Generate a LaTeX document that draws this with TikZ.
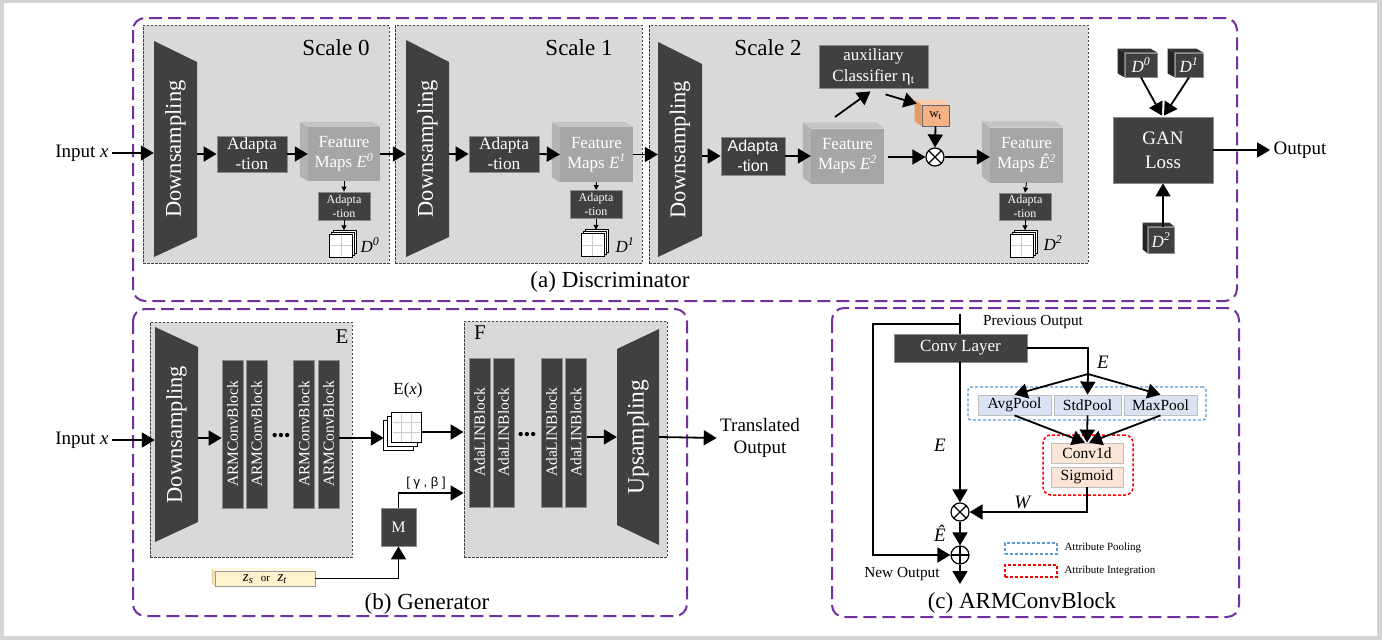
\documentclass[tikz,border=0pt]{standalone}
\usepackage{fontspec}
\usepackage{graphicx}
\setmainfont{Liberation Serif}
\newfontfamily\sansf{Liberation Sans}
\usetikzlibrary{arrows.meta,calc}
\definecolor{dk}{HTML}{404040}
\definecolor{pgray}{HTML}{D9D9D9}
\definecolor{purp}{HTML}{7030A0}
\definecolor{fmgray}{HTML}{A6A6A6}
\definecolor{fmside}{HTML}{B3B3B3}
\definecolor{fmtop}{HTML}{C4C4C4}
\definecolor{orng}{HTML}{F4B183}
\definecolor{orngside}{HTML}{E29A66}
\definecolor{orngtop}{HTML}{F8CBAD}
\definecolor{ylw}{HTML}{FFF2CC}
\definecolor{ylwside}{HTML}{EDDCA8}
\definecolor{lblue}{HTML}{DAE3F3}
\definecolor{lorg}{HTML}{FBE5D6}
\definecolor{bdash}{HTML}{5B9BD5}
\definecolor{dkside}{HTML}{262626}
\definecolor{dktop}{HTML}{333333}
\newcommand\fsz[2]{\fontsize{#1}{#2}\selectfont}
\newcommand\cubesides[5]{%
  \fill[#4] (#1.north west) -- ++(-#2,-#3) -- ($(#1.south west)+(-#2,-#3)$) -- (#1.south west) -- cycle;
  \fill[#5] (#1.north west) -- ++(-#2,-#3) -- ($(#1.north east)+(-#2,-#3)$) -- (#1.north east) -- cycle;}
\newcommand\mkdstack[2]{%
  \node[minimum width=27pt,minimum height=27pt,inner sep=0pt] (#1) at (#2) {};
  \coordinate (#1-f) at ($(#1.north west)+(0,4)$);
  \draw[stk] ($(#1-f)+(4,-4)$) rectangle ++(23,23);
  \draw[stk] ($(#1-f)+(2,-2)$) rectangle ++(23,23);
  \draw[stk] (#1-f) rectangle ++(23,23);
  \draw[gridl] ($(#1-f)+(11.5,1)$) -- ++(0,21) ($(#1-f)+(1,11.5)$) -- ++(21,0);}
\tikzset{
  purplebox/.style={draw=purp,line width=2pt,dash pattern=on 13pt off 6pt,rounded corners=12pt},
  panel/.style={fill=pgray,draw=black!75,line width=0.8pt,dash pattern=on 2.5pt off 1.5pt,inner sep=0pt},
  dbox/.style={fill=dk,draw=black!45,line width=0.8pt,text=white,inner sep=0pt,align=center},
  trapt/.style={inner sep=0pt,text=white,font=\fsz{22.5}{26}},
  blk/.style={dbox,minimum width=21pt,font=\fsz{15.5}{18}},
  fmf/.style={fill=fmgray,inner sep=0pt,text=white,align=center,font=\fsz{17}{20}},
  arr/.style={line width=1.8pt,-{Triangle[length=13pt,width=15pt]}},
  sarr/.style={line width=0.9pt,-{Triangle[length=5pt,width=5pt]}},
  ln/.style={line width=1.8pt},
  stk/.style={draw=black,fill=white,line width=1.3pt},
  gridl/.style={draw=black!20,line width=0.8pt},
  dlab/.style={font=\fsz{17}{20}},
  captxt/.style={font=\fsz{23}{26}},
  txt/.style={font=\fsz{19}{22},align=center},
  otimes/.style={circle,draw,fill=white,minimum size=18pt,inner sep=0pt,line width=1.2pt,
    path picture={\draw[line width=1.2pt] (path picture bounding box.north west) -- (path picture bounding box.south east) (path picture bounding box.north east) -- (path picture bounding box.south west);}},
  oplus/.style={circle,draw,fill=white,minimum size=18pt,inner sep=0pt,line width=1.2pt,
    path picture={\draw[line width=1.2pt] (path picture bounding box.north) -- (path picture bounding box.south) (path picture bounding box.east) -- (path picture bounding box.west);}},
  pool/.style={fill=lblue,draw=black!25,line width=0.8pt,minimum height=20pt,inner sep=0pt,font=\fsz{15.5}{18}},
  intb/.style={fill=lorg,draw=black!25,line width=0.8pt,minimum width=72pt,minimum height=20pt,inner sep=0pt,font=\fsz{15.5}{18}},
  lab/.style={font=\fsz{19}{22}},
}
\begin{document}
\begin{tikzpicture}[x=1pt,y=-1pt]
\useasboundingbox (0,0) rectangle (1382,640);
\fill[black!17] (0,0) rectangle (1382,640);
\fill[white] (4,3) rectangle (1377,636);

% ---------- outer purple boxes ----------
\draw[purplebox] (133,18) rectangle (1237,301);
\draw[purplebox] (133,309) rectangle (687,616);
\draw[purplebox] (832,308) rectangle (1239,617);
\node[captxt] (capa) at (610,282) {(a) Discriminator};
\node[captxt] (capb) at (427,604) {(b) Generator};
\node[captxt] (capc) at (1022,603) {(c) ARMConvBlock};

% ---------- (a) Discriminator ----------
\node[panel,minimum width=246pt,minimum height=238pt] (sc0) at (266,144) {};
\node[panel,minimum width=247pt,minimum height=238pt] (sc1) at (518.5,144) {};
\node[panel,minimum width=439pt,minimum height=238pt] (sc2) at (868.5,144) {};
\node[captxt] (t0) at (336,48) {Scale 0};
\node[captxt] (t1) at (579,48) {Scale 1};
\node[captxt] (t2) at (768,48) {Scale 2};

\node[txt] (inx) at (82,153) {Input \textit{x}};

% scale 0
\fill[dk] (154,41) -- (197,62) -- (197,237) -- (154,257) -- cycle;
\node[trapt,minimum width=43pt,minimum height=216pt] (ds0) at (175.5,149) {\rotatebox{90}{Downsampling}};
\node[dbox,minimum width=70pt,minimum height=36pt,font=\fsz{17.3}{20}] (ad0) at (252,154) {Adapta\\-tion};
\node[fmf,minimum width=72pt,minimum height=54pt] (fm0) at (344,154) {Feature\\Maps \textit{E}\textsuperscript{\textit{0}}};
\cubesides{fm0}{8}{5}{fmside}{fmtop}
\node[dbox,minimum width=52pt,minimum height=28pt,font=\fsz{12}{14}] (sa0) at (344,206) {Adapta\\-tion};
\mkdstack{dst0}{343.5,244}
\node[dlab] (dl0) at (370,245) {\textit{D}\textsuperscript{\textit{0}}};

% scale 1
\fill[dk] (406,40) -- (449,62) -- (449,237) -- (406,257) -- cycle;
\node[trapt,minimum width=43pt,minimum height=217pt] (ds1) at (427.5,148.5) {\rotatebox{90}{Downsampling}};
\node[dbox,minimum width=70pt,minimum height=36pt,font=\fsz{17.3}{20}] (ad1) at (504,154) {Adapta\\-tion};
\node[fmf,minimum width=73pt,minimum height=55pt] (fm1) at (596.5,154.5) {Feature\\Maps \textit{E}\textsuperscript{\textit{1}}};
\cubesides{fm1}{8}{5}{fmside}{fmtop}
\node[dbox,minimum width=52pt,minimum height=28pt,font=\fsz{12}{14}] (sa1) at (596,204.5) {Adapta\\-tion};
\mkdstack{dst1}{595,243.5}
\node[dlab] (dl1) at (625,245) {\textit{D}\textsuperscript{\textit{1}}};

% scale 2
\fill[dk] (658,42) -- (702,64) -- (702,236) -- (658,257) -- cycle;
\node[trapt,minimum width=44pt,minimum height=215pt] (ds2) at (680,149.5) {\rotatebox{90}{Downsampling}};
\node[dbox,minimum width=64pt,minimum height=38pt,font=\sansf\fsz{16}{20}] (ad2) at (753,156) {Adapta\\-tion};
\node[fmf,minimum width=73pt,minimum height=55pt] (fm2) at (847.5,156) {Feature\\Maps \textit{E}\textsuperscript{\textit{2}}};
\cubesides{fm2}{8}{6}{fmside}{fmtop}
\node[otimes] (ot) at (935,157) {};
\node[fmf,minimum width=73pt,minimum height=55pt] (fh) at (1026.5,155) {Feature\\Maps \textit{Ê}\textsuperscript{\textit{2}}};
\cubesides{fh}{8}{6}{fmside}{fmtop}
\node[dbox,minimum width=52pt,minimum height=27pt,font=\fsz{12}{14}] (sa2) at (1025,206.5) {Adapta\\-tion};
\mkdstack{dst2}{1024,244}
\node[dlab] (dl2) at (1053,243) {\textit{D}\textsuperscript{\textit{2}}};
\node[dbox,minimum width=109pt,minimum height=43pt,font=\fsz{17}{21}] (aux) at (873.5,66.5) {auxiliary\\Classifier η\textsubscript{t}};
\node[fill=orng,draw=black!60,line width=0.6pt,minimum width=27pt,minimum height=21pt,inner sep=0pt,font=\fsz{13}{14}] (wt) at (935.5,115.5) {w\textsubscript{t}};
\cubesides{wt}{7}{5}{orngside}{orngtop}
\coordinate (e2up) at (835,117);

% right part
\node[dbox,minimum width=100pt,minimum height=66pt,font=\fsz{19}{24}] (gan) at (1163,150) {GAN\\Loss};
\node[dbox,minimum width=32pt,minimum height=24pt,font=\fsz{17}{20}] (dc0) at (1141,65) {\textit{D}\textsuperscript{\textit{0}}};
\cubesides{dc0}{7}{4}{dkside}{dktop}
\node[dbox,minimum width=28pt,minimum height=24pt,font=\fsz{17}{20}] (dc1) at (1189,65) {\textit{D}\textsuperscript{\textit{1}}};
\cubesides{dc1}{7}{4}{dkside}{dktop}
\node[dbox,minimum width=26pt,minimum height=26pt,font=\fsz{17}{20}] (dc2) at (1161,240) {\textit{D}\textsuperscript{\textit{2}}};
\cubesides{dc2}{5}{4}{dkside}{dktop}
\node[txt] (outp) at (1300,150) {Output};

% arrows (a)
\draw[arr] (inx.east) -- (inx.east -| ds0.west);
\draw[arr] (ds0.east |- ad0) -- (ad0.west);
\draw[arr] (ad0.east) -- (fm0.west);
\draw[arr] (fm0.east) -- (fm0.east -| ds1.west);
\draw[sarr] (fm0.south) -- (sa0.north);
\draw[sarr] (sa0.south) -- (sa0.south |- dst0.north);
\draw[arr] (ds1.east |- ad1) -- (ad1.west);
\draw[arr] (ad1.east) -- (fm1.west);
\draw[arr] (fm1.east) -- (fm1.east -| ds2.west);
\draw[sarr] (fm1.south) -- (sa1.north);
\draw[sarr] (sa1.south) -- (sa1.south |- dst1.north);
\draw[arr] (ds2.east |- ad2) -- (ad2.west);
\draw[arr] (ad2.east) -- (fm2.west);
\draw[arr,shorten <=4pt] (fm2.east |- ot) -- (ot.west);
\draw[arr] (ot.east) -- (ot.east -| fh.west);
\draw[sarr] (fh.south) -- (sa2.north);
\draw[sarr] (sa2.south) -- (sa2.south |- dst2.north);
\draw[arr] (e2up) -- ($(aux.south)+(-3,3)$);
\draw[arr] ($(aux.south)+(12,6)$) -- ($(wt.north west)+(-5,-1)$);
\draw[arr] (wt.south) -- (ot.north);
\draw[arr] (dc0.south) -- ($(gan.north)+(-1,-1)$);
\draw[arr] (dc1.south) -- ($(gan.north)+(1,-1)$);
\draw[arr] (dc2.north -| gan) -- (gan.south);
\draw[arr] (gan.east) -- (outp.west);

% ---------- (b) Generator ----------
\node[panel,minimum width=202pt,minimum height=235pt] (Ep) at (251,439.5) {};
\node[font=\fsz{21}{24}] (Elab) at (342,337) {E};
\fill[dk] (155,327) -- (198,347) -- (198,522) -- (155,542) -- cycle;
\node[trapt,minimum width=43pt,minimum height=215pt] (dsg) at (176.5,434.5) {\rotatebox{90}{Downsampling}};
\node[blk,minimum height=148pt] (a1) at (232.5,434) {\rotatebox{90}{ARMConvBlock}};
\node[blk,minimum height=148pt] (a2) at (256.5,434) {\rotatebox{90}{ARMConvBlock}};
\node[blk,minimum height=148pt] (a3) at (304,434) {\rotatebox{90}{ARMConvBlock}};
\node[blk,minimum height=148pt] (a4) at (328.5,434) {\rotatebox{90}{ARMConvBlock}};
\node[font=\fsz{18}{18},inner sep=0pt] (dots1) at (281,437) {•••};
\coordinate (rowg) at (0,438);
\node[txt] (inxg) at (82,440) {Input \textit{x}};

\node[minimum width=38pt,minimum height=38pt,inner sep=0pt] (exs) at (403,432) {};
\draw[stk] ($(exs.north west)+(0,8)$) rectangle ++(30,30);
\draw[stk] ($(exs.north west)+(4,4)$) rectangle ++(30,30);
\draw[stk] ($(exs.north west)+(8,0)$) rectangle ++(30,30);
\draw[gridl] ($(exs.north west)+(18,1)$) -- ++(0,28) ($(exs.north west)+(28,1)$) -- ++(0,28)
  ($(exs.north west)+(9,10)$) -- ++(28,0) ($(exs.north west)+(9,20)$) -- ++(28,0);
\node[font=\fsz{17}{20}] (exl) at (408,390) {E(\textit{x})};

\node[panel,minimum width=203pt,minimum height=236pt] (Fp) at (565.5,439) {};
\node[font=\fsz{21}{24}] (Flab) at (480,333) {F};
\node[blk,minimum height=149pt] (b1) at (479.5,432.5) {\rotatebox{90}{AdaLINBlock}};
\node[blk,minimum height=149pt] (b2) at (503.5,432.5) {\rotatebox{90}{AdaLINBlock}};
\node[blk,minimum height=149pt] (b3) at (551.5,432.5) {\rotatebox{90}{AdaLINBlock}};
\node[blk,minimum height=149pt] (b4) at (576,432.5) {\rotatebox{90}{AdaLINBlock}};
\node[font=\fsz{18}{18},inner sep=0pt] (dots2) at (527,436) {•••};
\fill[dk] (617,349) -- (659,329) -- (659,545) -- (617,525) -- cycle;
\node[trapt,minimum width=42pt,minimum height=216pt,font=\fsz{23.5}{26}] (usg) at (638,437) {\rotatebox{90}{Upsampling}};
\node[txt] (trout) at (760,438) {Translated\\Output};

\node[dbox,minimum width=35pt,minimum height=38pt,font=\fsz{16}{18}] (mb) at (398.5,527) {M};
\node[font=\sansf\fsz{13}{15}] (gbl) at (426,483) {[ γ , β ]};
\node[fill=ylw,draw=black!40,line width=0.6pt,minimum width=100pt,minimum height=15pt,inner sep=0pt,text height=9pt,text depth=3pt] (zb) at (265,578.5)
  {\fsz{15}{15}\textit{z}\textsubscript{\textit{s}}\ \ {\fsz{11}{11}or}\ \ \textit{z}\textsubscript{\textit{t}}};
\cubesides{zb}{3}{3}{ylwside}{ylw!60!white}

\draw[arr] (inxg.east) -- (inxg.east -| dsg.west);
\draw[arr] (dsg.east |- rowg) -- (a1.west |- rowg);
\draw[arr] (a4.east |- rowg) -- (exs.west |- rowg);
\draw[arr] (exs.east) -- (exs.east -| Fp.west);
\draw[arr] (b4.east |- usg) -- (usg.west);
\draw[arr] (usg.east) -- (trout.west);
\draw[arr] (mb.north) |- ($(Fp.west)+(0,54)$);
\draw[arr] (zb.east) -| (mb.south);

% ---------- (c) ARMConvBlock ----------
\node[draw=bdash,line width=1.3pt,dash pattern=on 3pt off 2pt,rounded corners=3pt,minimum width=238pt,minimum height=33pt,inner sep=0pt] (apb) at (1087,403.5) {};
\node[draw=red,line width=1.5pt,dash pattern=on 3pt off 2pt,rounded corners=8pt,minimum width=90pt,minimum height=60pt,inner sep=0pt] (aib) at (1088,465) {};
\node[dbox,minimum width=133pt,minimum height=28pt,font=\fsz{17}{20}] (conv) at (960.5,348) {Conv Layer};
\node[pool,minimum width=73pt] (avg) at (1014.5,405) {AvgPool};
\node[pool,minimum width=67pt] (std) at (1087.5,405) {StdPool};
\node[pool,minimum width=73pt] (mxp) at (1160.5,405) {MaxPool};
\node[intb] (c1d) at (1087,453) {Conv1d};
\node[intb] (sig) at (1087,477) {Sigmoid};
\node[otimes] (ot2) at (960,512) {};
\node[oplus] (op) at (960,555) {};
\coordinate (prev) at (960,314);
\coordinate (loopc) at (873,324);
\coordinate (br) at (1088,374);
\coordinate (newo) at (960,584);
\node[font=\fsz{15.3}{18}] (prevt) at (1033,322) {Previous Output};
\node[font=\fsz{15.3}{18}] (newt) at (902,574) {New Output};
\node[lab] (le1) at (1103,362) {\textit{E}};
\node[lab] (le2) at (940,445) {\textit{E}};
\node[lab] (lw) at (1023,502) {\textit{W}};
\node[lab] (leh) at (940,533) {\textit{Ê}};

\draw[ln] (prev) -- (prev |- conv.north);
\draw[arr] (loopc -| prev) -- (loopc) |- (op.west);
\draw[ln] (conv.east) -| (br);
\draw[arr] (br) -- (avg.north);
\draw[arr] (br) -- (std.north);
\draw[arr] (br) -- (mxp.north);
\draw[arr] (avg.south) -- ($(c1d.north)+(-2,0)$);
\draw[arr] (std.south) -- (c1d.north);
\draw[arr] (mxp.south) -- ($(c1d.north)+(2,0)$);
\draw[arr] (sig.south) |- (ot2.east);
\draw[arr] (conv.south -| ot2) -- (ot2.north);
\draw[arr] (ot2.south) -- (op.north);
\draw[arr] (op.south) -- (newo);

% legend
\node[draw=bdash,line width=1.3pt,dash pattern=on 3pt off 2pt,minimum width=52pt,minimum height=11pt,inner sep=0pt] (lg1) at (1031,548.5) {};
\node[draw=red,line width=1.3pt,dash pattern=on 3pt off 2pt,minimum width=52pt,minimum height=12pt,inner sep=0pt] (lg2) at (1031,571) {};
\node[font=\fsz{11}{13},anchor=west] (lg1t) at (1061,548) {Attribute Pooling};
\node[font=\fsz{11}{13},anchor=west] (lg2t) at (1061,571) {Attribute Integration};
\end{tikzpicture}
\end{document}
